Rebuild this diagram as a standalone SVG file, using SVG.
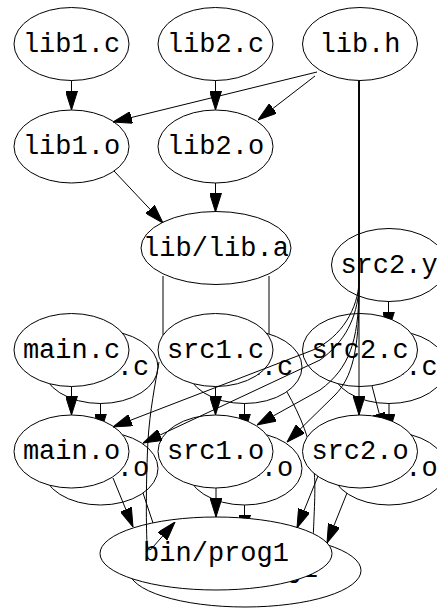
<svg xmlns="http://www.w3.org/2000/svg" width="437" height="608" viewBox="0 0 437 608">
<style>
.n ellipse{fill:#fff;stroke:#000;stroke-width:1}
.n text{font-family:"Liberation Mono","DejaVu Sans Mono",monospace;font-size:27px;text-anchor:middle;fill:#000}
.e path{fill:none;stroke:#000;stroke-width:1}
.e path.a{marker-end:url(#ah)}
</style>
<defs>
<marker id="ah" markerUnits="userSpaceOnUse" viewBox="0 0 19 12" refX="19" refY="6" markerWidth="19" markerHeight="12" orient="auto">
<path d="M0,0 L19,6 L0,12 Z" fill="#000" stroke="#000" stroke-width="1"/>
</marker>
</defs>
<rect width="437" height="608" fill="#fff"/>

<g id="connectors-under" class="e">
<path d="M269,276 L269,333 C270,360 280,378 287,392 C300,415 311,440 314,470 C316,490 314,510 313,545"/>
</g>

<g id="back-main.c" class="n"><ellipse cx="100.5" cy="367" rx="57.5" ry="36.5"/><text x="100.5" y="374.5">main.c</text></g>
<g id="back-src1.c" class="n"><ellipse cx="244.5" cy="367" rx="57.5" ry="36.5"/><text x="244.5" y="374.5">src1.c</text></g>
<g id="back-src2.c" class="n"><ellipse cx="389" cy="367" rx="57.5" ry="36.5"/><text x="389" y="374.5">src2.c</text></g>
<g id="back-main.o" class="n"><ellipse cx="100.5" cy="468.5" rx="57.5" ry="36.5"/><text x="100.5" y="476">main.o</text></g>
<g id="back-src1.o" class="n"><ellipse cx="244.5" cy="468.5" rx="57.5" ry="36.5"/><text x="244.5" y="476">src1.o</text></g>
<g id="back-src2.o" class="n"><ellipse cx="389" cy="468.5" rx="57.5" ry="36.5"/><text x="389" y="476">src2.o</text></g>
<g id="back-bin-prog1" class="n"><ellipse cx="245" cy="570.5" rx="116" ry="36.5"/><text x="245" y="577">bin/prog1</text></g>

<g id="connectors-mid" class="e">
<path class="a" d="M100.5,403.5 L100.5,432.5"/>
<path class="a" d="M244.5,403.5 L244.5,432.5"/>
<path class="a" d="M389,403.5 L389,432.5"/>
<path class="a" d="M372,386 L384,432"/>
<path class="a" d="M388.5,301.5 L388.5,330.5"/>
<path class="a" d="M244.5,505 L244.5,534"/>
<path d="M143,493 L156,532"/>
</g>

<g id="lib1.c" class="n"><ellipse cx="71.5" cy="44" rx="57.5" ry="36.5"/><text x="71.5" y="51.5">lib1.c</text></g>
<g id="lib2.c" class="n"><ellipse cx="215.5" cy="44" rx="57.5" ry="36.5"/><text x="215.5" y="51.5">lib2.c</text></g>
<g id="lib.h" class="n"><ellipse cx="360" cy="44" rx="57.5" ry="36.5"/><text x="360" y="51.5">lib.h</text></g>
<g id="lib1.o" class="n"><ellipse cx="71.5" cy="146.5" rx="57.5" ry="36.5"/><text x="71.5" y="154">lib1.o</text></g>
<g id="lib2.o" class="n"><ellipse cx="215.5" cy="146.5" rx="57.5" ry="36.5"/><text x="215.5" y="154">lib2.o</text></g>
<g id="lib-lib.a" class="n"><ellipse cx="216" cy="248" rx="75" ry="36.5"/><text x="216" y="255.5">lib/lib.a</text></g>
<g id="src2.y" class="n"><ellipse cx="389" cy="265" rx="57.5" ry="36.5"/><text x="389" y="272.5">src2.y</text></g>
<g id="main.c" class="n"><ellipse cx="71.5" cy="350" rx="57.5" ry="36.5"/><text x="71.5" y="357.5">main.c</text></g>
<g id="src1.c" class="n"><ellipse cx="215.5" cy="350" rx="57.5" ry="36.5"/><text x="215.5" y="357.5">src1.c</text></g>
<g id="src2.c" class="n"><ellipse cx="360" cy="350" rx="57.5" ry="36.5"/><text x="360" y="357.5">src2.c</text></g>
<g id="main.o" class="n"><ellipse cx="71.5" cy="451.5" rx="57.5" ry="36.5"/><text x="71.5" y="459">main.o</text></g>
<g id="src1.o" class="n"><ellipse cx="215.5" cy="451.5" rx="57.5" ry="36.5"/><text x="215.5" y="459">src1.o</text></g>
<g id="src2.o" class="n"><ellipse cx="360" cy="451.5" rx="57.5" ry="36.5"/><text x="360" y="459">src2.o</text></g>
<g id="bin-prog1" class="n"><ellipse cx="216" cy="553.5" rx="116" ry="36.5"/><text x="216" y="561">bin/prog1</text></g>

<g id="connectors-top" class="e">
<path class="a" d="M71.5,80.5 L71.5,110"/>
<path class="a" d="M215.5,80.5 L215.5,110"/>
<path class="a" d="M317,72 L113,122"/>
<path class="a" d="M315,76 L258,120"/>
<path class="a" d="M114,171 L163,223"/>
<path class="a" d="M215.5,183 L215.5,212"/>
<path d="M163,276 L163,335"/>
<path class="a" d="M359,81 L359,282 C358,308 342,337 313,350 L113,427"/>
<path class="a" d="M359,81 L359,288 C357,318 345,342 320,360 L143,443"/>
<path class="a" d="M359,81 L359,292 C358,340 350,368 320,390 L257,425"/>
<path class="a" d="M359,81 L359,295 C359,350 352,378 335,395 L287,442"/>
<path class="a" d="M359,81 L359,415"/>
<path class="a" d="M71.5,386.5 L71.5,415"/>
<path class="a" d="M215.5,386.5 L215.5,415"/>
<path class="a" d="M113,478 L133,527"/>
<path class="a" d="M216,488 L216,517"/>
<path class="a" d="M318,476 L297,528"/>
<path class="a" d="M347,493 L327,543"/>
<path class="a" d="M159,362 C155,385 150,410 148,440 C146,480 146,520 147,544 Q149,554 153,547 L175,522"/>
</g>
</svg>
